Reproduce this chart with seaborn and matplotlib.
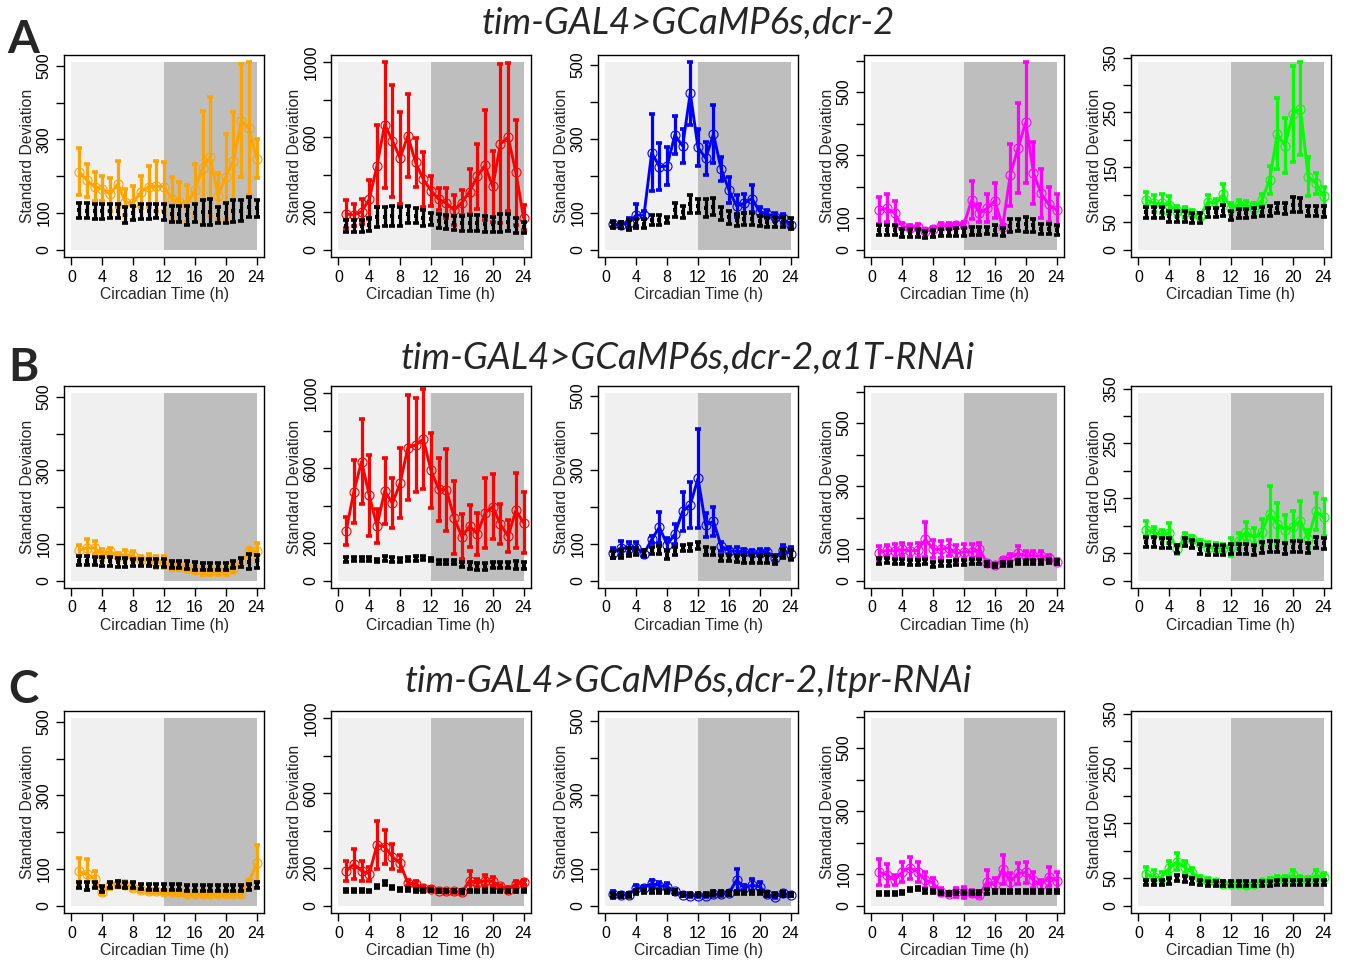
import matplotlib
matplotlib.use('Agg')
import matplotlib.pyplot as plt
import seaborn as sns

sns.set_theme(style='white')
plt.rcParams['font.family'] = ['Liberation Sans', 'DejaVu Sans']

CT = list(range(1, 25))

# ---- row A: tim-GAL4>GCaMP6s,dcr-2 ----
a1_mean = [212, 189, 171, 166, 151, 178, 130, 127, 157, 171, 173, 171, 139, 130, 125, 162, 223, 253, 145, 198, 242, 351, 330, 248]
a1_sd = [64, 45, 40, 34, 45, 63, 36, 46, 43, 56, 68, 67, 59, 53, 50, 70, 154, 162, 64, 118, 133, 154, 180, 54]
a1_ctl = [107, 106, 104, 104, 105, 105, 95, 100, 104, 104, 105, 103, 98, 97, 93, 100, 101, 103, 94, 100, 106, 106, 115, 113]
a1_ctl_sd = [20, 20, 20, 20, 20, 20, 22, 20, 20, 20, 20, 22, 22, 22, 27, 25, 35, 36, 21, 27, 30, 29, 27, 23]

a2_mean = [190, 185, 202, 269, 448, 668, 582, 489, 609, 466, 376, 315, 269, 247, 211, 251, 310, 391, 450, 337, 566, 600, 412, 170]
a2_sd = [75, 60, 67, 104, 220, 337, 300, 246, 220, 130, 147, 80, 60, 80, 78, 68, 120, 175, 294, 188, 425, 395, 283, 68]
a2_ctl = [124, 124, 127, 133, 176, 176, 180, 176, 188, 180, 168, 162, 151, 146, 143, 140, 144, 142, 137, 134, 141, 145, 128, 119]
a2_ctl_sd = [33, 33, 33, 33, 53, 52, 55, 52, 45, 40, 43, 31, 38, 36, 38, 40, 43, 42, 42, 42, 49, 45, 38, 30]

a3_mean = [69, 66, 72, 93, 93, 262, 224, 226, 310, 280, 423, 276, 247, 312, 218, 161, 118, 125, 138, 102, 96, 89, 84, 66]
a3_sd = [8, 8, 14, 29, 10, 105, 64, 52, 52, 46, 85, 49, 45, 78, 33, 36, 29, 25, 36, 12, 11, 11, 11, 6]
a3_ctl = [66, 66, 66, 70, 70, 80, 80, 80, 107, 101, 123, 118, 112, 116, 98, 87, 80, 82, 82, 77, 75, 75, 75, 70]
a3_ctl_sd = [9, 9, 14, 13, 12, 14, 14, 9, 18, 17, 25, 20, 24, 23, 18, 17, 17, 16, 16, 14, 13, 13, 13, 14]

a4_mean = [125, 131, 115, 74, 69, 72, 58, 65, 75, 75, 77, 80, 157, 115, 131, 155, 72, 237, 322, 404, 244, 178, 143, 125]
a4_sd = [43, 44, 39, 9, 8, 9, 6, 5, 8, 8, 8, 8, 61, 28, 44, 55, 5, 98, 143, 192, 99, 77, 57, 50]
a4_ctl = [62, 62, 62, 52, 52, 52, 48, 50, 54, 54, 55, 56, 59, 59, 60, 62, 55, 76, 78, 80, 77, 64, 64, 62]
a4_ctl_sd = [16, 16, 16, 12, 12, 12, 11, 11, 12, 12, 12, 12, 12, 12, 12, 15, 12, 20, 20, 24, 21, 16, 16, 16]

a5_mean = [91, 84, 84, 81, 70, 68, 66, 61, 87, 84, 101, 75, 81, 81, 75, 90, 127, 211, 189, 247, 257, 133, 121, 97]
a5_sd = [14, 15, 18, 17, 9, 10, 6, 5, 12, 8, 19, 10, 9, 7, 9, 12, 25, 65, 50, 87, 84, 36, 19, 17]
a5_ctl = [68, 68, 68, 61, 60, 60, 58, 58, 68, 68, 71, 62, 65, 66, 67, 69, 70, 76, 75, 82, 81, 70, 70, 69]
a5_ctl_sd = [10, 10, 10, 10, 10, 10, 9, 9, 8, 8, 10, 8, 8, 8, 8, 8, 9, 9, 10, 14, 13, 9, 9, 10]

# ---- row B: alpha1T-RNAi ----
b1_mean = [83, 89, 89, 71, 80, 66, 71, 66, 57, 55, 50, 50, 39, 39, 35, 30, 25, 25, 25, 25, 32, 50, 80, 80]
b1_sd = [15, 23, 18, 14, 10, 10, 12, 14, 9, 16, 16, 16, 10, 10, 10, 10, 10, 10, 10, 10, 10, 8, 10, 23]
b1_ctl = [54, 54, 53, 51, 52, 50, 50, 50, 49, 49, 48, 48, 43, 43, 42, 40, 39, 38, 38, 38, 43, 50, 51, 52]
b1_ctl_sd = [12, 12, 12, 12, 12, 12, 12, 10, 10, 10, 10, 10, 10, 10, 10, 10, 10, 10, 10, 10, 10, 12, 20, 18]

b2_mean = [264, 475, 636, 455, 291, 479, 413, 520, 711, 725, 755, 589, 488, 484, 336, 234, 291, 250, 362, 395, 300, 237, 375, 309]
b2_sd = [75, 168, 226, 215, 89, 175, 133, 187, 282, 250, 268, 202, 169, 218, 196, 120, 113, 112, 188, 173, 107, 84, 202, 164]
b2_ctl = [113, 115, 115, 115, 108, 118, 113, 108, 115, 117, 120, 110, 100, 100, 98, 85, 80, 75, 75, 82, 82, 82, 82, 80]
b2_ctl_sd = [12, 12, 12, 12, 8, 14, 12, 10, 10, 12, 12, 8, 12, 12, 12, 14, 20, 18, 18, 15, 15, 15, 22, 20]

b3_mean = [75, 88, 88, 88, 73, 111, 144, 97, 126, 187, 205, 276, 150, 160, 93, 81, 79, 77, 75, 75, 77, 61, 82, 73]
b3_sd = [13, 18, 16, 16, 10, 10, 42, 17, 27, 52, 62, 135, 33, 39, 12, 10, 12, 9, 7, 9, 9, 7, 13, 18]
b3_ctl = [70, 72, 77, 78, 74, 82, 83, 70, 80, 87, 90, 95, 80, 78, 62, 62, 60, 58, 58, 58, 58, 55, 72, 70]
b3_ctl_sd = [10, 10, 10, 10, 8, 10, 10, 12, 10, 8, 10, 10, 12, 10, 8, 8, 10, 10, 10, 10, 10, 10, 12, 12]

b4_mean = [88, 96, 94, 99, 94, 96, 131, 99, 99, 104, 86, 91, 91, 99, 56, 49, 64, 74, 86, 78, 78, 78, 72, 60]
b4_sd = [22, 17, 21, 21, 23, 24, 56, 29, 27, 25, 26, 24, 24, 21, 6, 7, 6, 11, 24, 16, 16, 16, 8, 7]
b4_ctl = [62, 63, 60, 60, 57, 57, 60, 50, 55, 55, 57, 58, 60, 60, 52, 48, 53, 52, 58, 60, 58, 60, 62, 60]
b4_ctl_sd = [8, 8, 8, 8, 8, 8, 8, 8, 8, 8, 8, 8, 8, 8, 6, 6, 6, 6, 6, 6, 6, 6, 6, 6]

b5_mean = [93, 87, 84, 86, 57, 78, 76, 69, 60, 60, 59, 61, 72, 89, 78, 89, 121, 103, 93, 97, 109, 76, 126, 115]
b5_sd = [16, 10, 8, 18, 8, 9, 6, 5, 10, 9, 7, 17, 14, 17, 17, 23, 51, 39, 27, 29, 36, 16, 33, 33]
b5_ctl = [70, 70, 69, 68, 58, 70, 66, 57, 56, 56, 56, 58, 57, 58, 55, 60, 62, 62, 58, 62, 62, 59, 70, 68]
b5_ctl_sd = [9, 9, 9, 9, 7, 7, 7, 9, 9, 9, 9, 9, 9, 9, 9, 10, 10, 10, 10, 10, 10, 9, 10, 10]

# ---- row C: Itpr-RNAi ----
c1_mean = [93, 85, 73, 37, 55, 59, 57, 49, 43, 39, 39, 37, 37, 36, 32, 32, 32, 31, 32, 32, 32, 32, 64, 115]
c1_sd = [36, 42, 21, 6, 9, 8, 9, 8, 6, 6, 6, 6, 6, 6, 6, 6, 6, 6, 6, 6, 6, 6, 6, 50]
c1_ctl = [55, 53, 55, 45, 55, 58, 57, 55, 52, 50, 50, 50, 50, 50, 47, 47, 47, 47, 47, 47, 47, 47, 50, 57]
c1_ctl_sd = [8, 10, 8, 8, 8, 8, 8, 8, 8, 8, 8, 8, 8, 8, 8, 8, 8, 8, 8, 8, 8, 8, 8, 8]

c2_mean = [186, 221, 186, 170, 323, 314, 261, 226, 120, 115, 94, 88, 80, 76, 76, 71, 133, 120, 133, 129, 102, 85, 115, 124]
c2_sd = [53, 81, 53, 38, 129, 92, 67, 44, 18, 14, 12, 11, 8, 8, 8, 8, 53, 23, 31, 26, 9, 12, 18, 14]
c2_ctl = [80, 80, 80, 78, 102, 120, 97, 85, 85, 80, 80, 82, 78, 78, 78, 75, 78, 78, 80, 80, 78, 78, 78, 80]
c2_ctl_sd = [6, 6, 6, 6, 10, 12, 8, 6, 6, 6, 6, 6, 6, 6, 6, 6, 6, 6, 6, 6, 6, 6, 6, 6]

c3_mean = [30, 29, 29, 47, 48, 60, 54, 51, 38, 29, 27, 27, 27, 30, 30, 33, 69, 48, 55, 51, 30, 24, 33, 29]
c3_sd = [10, 6, 4, 8, 4, 9, 10, 11, 4, 4, 4, 4, 4, 4, 4, 4, 31, 7, 18, 13, 5, 5, 6, 4]
c3_ctl = [29, 29, 29, 36, 39, 39, 38, 38, 36, 30, 30, 30, 30, 33, 33, 33, 35, 35, 35, 35, 32, 30, 32, 30]
c3_ctl_sd = [5, 5, 5, 5, 5, 5, 5, 5, 5, 5, 5, 5, 5, 5, 5, 5, 5, 5, 5, 5, 5, 5, 5, 5]

c4_mean = [107, 97, 81, 107, 120, 107, 81, 71, 44, 36, 42, 42, 39, 34, 76, 65, 115, 76, 102, 105, 81, 65, 92, 78]
c4_sd = [42, 34, 16, 32, 35, 32, 26, 15, 11, 6, 15, 17, 10, 8, 37, 21, 47, 26, 34, 34, 24, 16, 31, 29]
c4_ctl = [39, 39, 39, 42, 52, 53, 46, 44, 42, 39, 40, 40, 40, 40, 46, 44, 44, 44, 44, 44, 44, 44, 44, 44]
c4_ctl_sd = [5, 5, 5, 5, 5, 5, 5, 5, 5, 5, 5, 5, 5, 5, 8, 5, 5, 5, 5, 5, 5, 5, 5, 5]

c5_mean = [58, 52, 52, 68, 80, 70, 60, 48, 45, 42, 40, 40, 40, 38, 40, 42, 45, 48, 48, 55, 48, 46, 55, 52]
c5_sd = [12, 12, 10, 14, 16, 12, 8, 5, 5, 5, 5, 5, 5, 5, 5, 5, 6, 6, 6, 10, 6, 6, 10, 8]
c5_ctl = [42, 42, 42, 45, 50, 48, 45, 42, 40, 40, 40, 40, 40, 40, 40, 40, 40, 42, 42, 42, 42, 42, 42, 42]
c5_ctl_sd = [5, 5, 5, 5, 5, 5, 5, 5, 5, 5, 5, 5, 5, 5, 5, 5, 5, 5, 5, 5, 5, 5, 5, 5]

ROW_TITLES = ['tim-GAL4>GCaMP6s,dcr-2',
              'tim-GAL4>GCaMP6s,dcr-2,\u03b11T-RNAi',
              'tim-GAL4>GCaMP6s,dcr-2,Itpr-RNAi']
ROW_LETTERS = ['A', 'B', 'C']
COLORS = ['#FFA500', '#FF0000', '#0000FF', '#FF00FF', '#00FF00']
Y_TOPS = [510, 1000, 506, 594, 341]
Y_TICKS = [[0, 100, 200, 300, 400, 500],
           [0, 200, 400, 600, 800, 1000],
           [0, 100, 200, 300, 400, 500],
           [0, 100, 200, 300, 400, 500, 600],
           [0, 50, 100, 150, 200, 250, 300, 350]]
Y_TICKLABELS = [['0', '100', '', '300', '', '500'],
                ['0', '200', '', '600', '', '1000'],
                ['0', '100', '', '300', '', '500'],
                ['0', '100', '', '300', '', '500', ''],
                ['0', '50', '', '150', '', '250', '', '350']]

PANELS = [
    [(a1_mean, a1_sd, a1_ctl, a1_ctl_sd), (a2_mean, a2_sd, a2_ctl, a2_ctl_sd),
     (a3_mean, a3_sd, a3_ctl, a3_ctl_sd), (a4_mean, a4_sd, a4_ctl, a4_ctl_sd),
     (a5_mean, a5_sd, a5_ctl, a5_ctl_sd)],
    [(b1_mean, b1_sd, b1_ctl, b1_ctl_sd), (b2_mean, b2_sd, b2_ctl, b2_ctl_sd),
     (b3_mean, b3_sd, b3_ctl, b3_ctl_sd), (b4_mean, b4_sd, b4_ctl, b4_ctl_sd),
     (b5_mean, b5_sd, b5_ctl, b5_ctl_sd)],
    [(c1_mean, c1_sd, c1_ctl, c1_ctl_sd), (c2_mean, c2_sd, c2_ctl, c2_ctl_sd),
     (c3_mean, c3_sd, c3_ctl, c3_ctl_sd), (c4_mean, c4_sd, c4_ctl, c4_ctl_sd),
     (c5_mean, c5_sd, c5_ctl, c5_ctl_sd)],
]

W, H = 1346, 961
COL_LEFT = [64, 331, 598, 864, 1131]
ROW_TOP = [55, 386, 711]
BOX_W, BOX_H = 200, 202


def draw_panel(ax, color, mean, sd, ctl, ctl_sd, ytop, yticks, ylabels):
    ax.fill_between([0, 12], 0, ytop, color='#F0F0F0', lw=0, zorder=0)
    ax.fill_between([12, 24], 0, ytop, color='#BEBEBE', lw=0, zorder=0)

    ax.errorbar(CT, mean, yerr=sd, fmt='none', ecolor=color, elinewidth=2.3,
                capsize=2.4, capthick=2.6, zorder=2)
    sns.lineplot(x=CT, y=mean, ax=ax, color=color, lw=2.1, marker='o',
                 markersize=6.5, markerfacecolor='none', markeredgecolor=color,
                 markeredgewidth=0.8, zorder=3)

    ax.errorbar(CT, ctl, yerr=ctl_sd, fmt='none', ecolor='black', elinewidth=2.3,
                capsize=2.3, capthick=2.6, zorder=4)
    sns.scatterplot(x=CT, y=ctl, ax=ax, color='black', marker='s', s=9,
                    linewidth=0, zorder=5)

    ax.set_xlim(-0.96, 24.96)
    ax.set_ylim(-0.04 * ytop, 1.04 * ytop)
    ax.set_xticks(range(0, 25, 4))
    ax.set_yticks(yticks)
    ax.set_yticklabels(ylabels, rotation=90, va='center')
    ax.tick_params(axis='both', direction='out', length=6, width=1,
                   labelsize=11.5, pad=3, colors='black')
    ax.tick_params(axis='both', left=True, bottom=True)
    for sp in ax.spines.values():
        sp.set_visible(True)
        sp.set_color('black')
        sp.set_linewidth(1.0)
    ax.set_xlabel('Circadian Time (h)', fontsize=11.3, labelpad=2)
    ax.set_ylabel('Standard Deviation', fontsize=11.3, labelpad=1)
    ax.grid(False)


fig = plt.figure(figsize=(W / 100, H / 100), dpi=100)
fig.patch.set_facecolor('white')

for r in range(3):
    for c in range(5):
        left = COL_LEFT[c] / W
        bottom = 1 - (ROW_TOP[r] + BOX_H) / H
        ax = fig.add_axes([left, bottom, BOX_W / W, BOX_H / H])
        ax.set_facecolor('white')
        mean, sd, ctl, ctl_sd = PANELS[r][c]
        draw_panel(ax, COLORS[c], mean, sd, ctl, ctl_sd, Y_TOPS[c],
                   Y_TICKS[c], Y_TICKLABELS[c])

title_y = [23, 358, 681]
letter_y = [40, 368, 690]
for r in range(3):
    fig.text(688 / W, 1 - title_y[r] / H, ROW_TITLES[r], ha='center', va='center',
             fontsize=26.3, style='italic', family=['Lato', 'DejaVu Sans'])
    fig.text(23 / W, 1 - letter_y[r] / H, ROW_LETTERS[r], ha='center', va='center',
             fontsize=33, fontweight='bold', family=['Lato', 'DejaVu Sans'])

fig.savefig('out.png', dpi=100, facecolor='white')
